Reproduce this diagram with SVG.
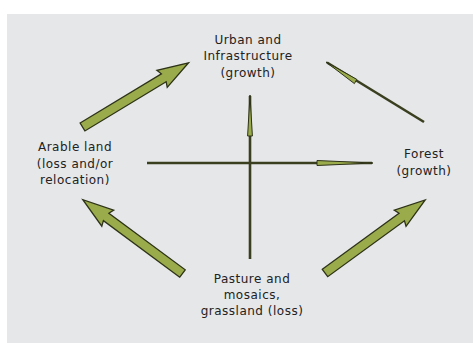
<svg xmlns="http://www.w3.org/2000/svg" width="473" height="343" viewBox="0 0 473 343">
<style>
.bg{fill:#e6e7e9}
.big{fill:#9aab4b;stroke:#2e3318;stroke-width:1.3;stroke-linejoin:miter}
.ln{stroke:#3a3f20;stroke-width:2.6;fill:none}
.tip{fill:#9aab4b;stroke:#2e3318;stroke-width:1}
text{font-family:"DejaVu Sans",Verdana,sans-serif;font-size:12px;letter-spacing:0.5px;fill:#222;text-anchor:middle}
</style>
<defs>
<path id="bigArrow" d="M0,-4.6 L95,-4.6 L93,-10 L124,0 L93,10 L95,4.6 L0,4.6 Z"/>
</defs>
<rect class="bg" x="7" y="14" width="466" height="329"/>
<g id="connectors">
<use href="#bigArrow" class="big" transform="translate(82.5,127) rotate(-31.2)"/>
<use href="#bigArrow" class="big" transform="translate(182.5,273.5) rotate(-143.5)"/>
<use href="#bigArrow" class="big" transform="translate(325,273) rotate(-36.1)"/>
<line class="ln" x1="250" y1="259" x2="250" y2="96"/>
<polygon class="tip" points="250,95 252.4,136 247.6,136"/>
<line class="ln" x1="147" y1="163" x2="372" y2="163"/>
<polygon class="tip" points="373,163 317,160.5 317,165.5"/>
<line class="ln" x1="424" y1="122" x2="327" y2="62.5"/>
<polygon class="tip" points="326,62 354.4,83.6 356.8,79.4"/>
</g>
<g id="urban">
<text x="248" y="44">Urban and</text>
<text x="248" y="60">Infrastructure</text>
<text x="248" y="77">(growth)</text>
</g>
<g id="arable">
<text x="75" y="151">Arable land</text>
<text x="75" y="168">(loss and/or</text>
<text x="75" y="184">relocation)</text>
</g>
<g id="forest">
<text x="424" y="158">Forest</text>
<text x="424" y="175">(growth)</text>
</g>
<g id="pasture">
<text x="252" y="283">Pasture and</text>
<text x="252" y="299">mosaics,</text>
<text x="252" y="315">grassland (loss)</text>
</g>
</svg>
